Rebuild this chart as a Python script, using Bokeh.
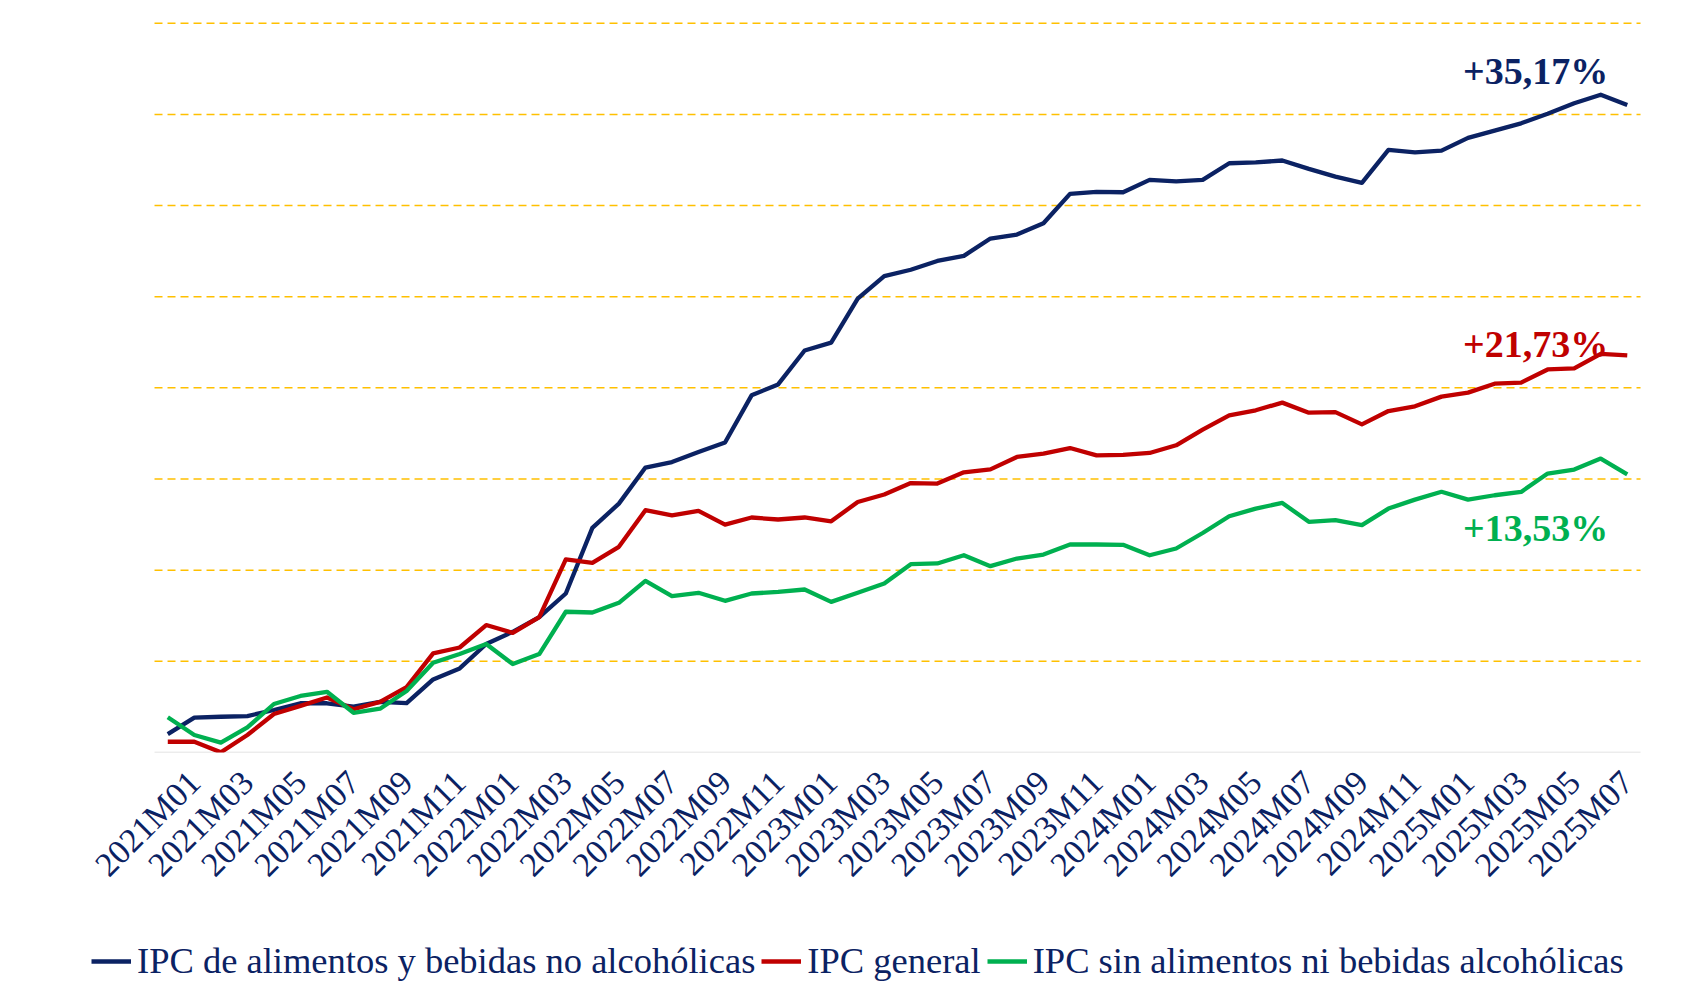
import math
from bokeh.plotting import figure
from bokeh.layouts import column
from bokeh.models import FixedTicker, Legend, LegendItem, Range1d
from bokeh.core.properties import value
from bokeh.embed import file_html
from bokeh.resources import INLINE

months = [
    "2020M12",
    "2021M01", "2021M02", "2021M03", "2021M04", "2021M05", "2021M06",
    "2021M07", "2021M08", "2021M09", "2021M10", "2021M11", "2021M12",
    "2022M01", "2022M02", "2022M03", "2022M04", "2022M05", "2022M06",
    "2022M07", "2022M08", "2022M09", "2022M10", "2022M11", "2022M12",
    "2023M01", "2023M02", "2023M03", "2023M04", "2023M05", "2023M06",
    "2023M07", "2023M08", "2023M09", "2023M10", "2023M11", "2023M12",
    "2024M01", "2024M02", "2024M03", "2024M04", "2024M05", "2024M06",
    "2024M07", "2024M08", "2024M09", "2024M10", "2024M11", "2024M12",
    "2025M01", "2025M02", "2025M03", "2025M04", "2025M05", "2025M06",
    "2025M07",
]

ipc_alimentos = [
    98.01, 98.91, 98.96, 99.00, 99.33, 99.70, 99.70, 99.51, 99.78, 99.71,
    101.01, 101.61, 102.95, 103.62, 104.42, 105.72, 109.32, 110.65, 112.63, 112.93,
    113.48, 114.00, 116.59, 117.19, 119.05, 119.48, 121.89, 123.13, 123.48, 123.96,
    124.24, 125.19, 125.41, 126.03, 127.64, 127.75, 127.73, 128.41, 128.33, 128.41,
    129.32, 129.37, 129.47, 129.01, 128.59, 128.24, 130.05, 129.92, 130.01, 130.71,
    131.11, 131.51, 132.03, 132.61, 133.08, 132.52,
]

ipc_general = [
    97.59, 97.59, 97.01, 97.96, 99.11, 99.56, 100.02, 99.37, 99.78, 100.59,
    102.44, 102.76, 103.99, 103.56, 104.42, 107.59, 107.40, 108.28, 110.29, 110.01,
    110.25, 109.50, 109.89, 109.78, 109.89, 109.68, 110.74, 111.15, 111.78, 111.75,
    112.37, 112.53, 113.21, 113.39, 113.70, 113.30, 113.32, 113.43, 113.85, 114.71,
    115.49, 115.77, 116.19, 115.64, 115.67, 115.00, 115.73, 115.99, 116.52, 116.74,
    117.23, 117.29, 118.01, 118.07, 118.87, 118.78,
]

ipc_sin_alimentos = [
    98.93, 97.96, 97.54, 98.38, 99.66, 100.10, 100.33, 99.18, 99.40, 100.37,
    101.92, 102.40, 102.95, 101.85, 102.40, 104.72, 104.68, 105.21, 106.41, 105.58,
    105.76, 105.32, 105.72, 105.81, 105.94, 105.26, 105.76, 106.27, 107.33, 107.37,
    107.82, 107.22, 107.64, 107.86, 108.41, 108.41, 108.39, 107.82, 108.19, 109.04,
    109.96, 110.38, 110.69, 109.65, 109.74, 109.47, 110.38, 110.87, 111.30, 110.87,
    111.11, 111.29, 112.30, 112.52, 113.12, 112.26,
]

series_names = [
    "IPC de alimentos y bebidas no alcohólicas",
    "IPC general",
    "IPC sin alimentos ni bebidas alcohólicas",
]
end_labels = ["+35,17%", "+21,73%", "+13,53%"]
grid_values = [102, 107, 112, 117, 122, 127, 132, 137]
y_min = 97

# styles
colors = ["#0B2263", "#C00000", "#00B050"]
navy_text = "#0B2263"
serif = "Liberation Serif"
label_dy = [1.87, 0.63, -2.96]
line_w = 4.3

n = len(months)
x = list(range(n))
all_series = [ipc_alimentos, ipc_general, ipc_sin_alimentos]
x_lo, x_hi = -0.5, n - 0.5

p = figure(
    width=1699, height=920,
    output_backend="svg", toolbar_location=None,
    x_range=Range1d(-3.289, 57.383),
    y_range=Range1d(y_min, 137.15),
    min_border_left=80, min_border_right=9,
    min_border_top=20, min_border_bottom=168,
)
p.outline_line_color = None
p.background_fill_color = "white"
p.border_fill_color = "white"
p.grid.visible = False
p.yaxis.visible = False

# dashed horizontal gridlines and solid baseline across the category span
p.segment(x0=[x_lo] * len(grid_values), x1=[x_hi] * len(grid_values),
          y0=grid_values, y1=grid_values,
          line_color="#FFC000", line_dash="8 5", line_width=1.5)
p.segment(x0=[x_lo], x1=[x_hi], y0=[y_min], y1=[y_min],
          line_color="#D9D9D9", line_width=1.5)

tick_idx = list(range(1, n, 2))
p.xaxis.ticker = FixedTicker(ticks=tick_idx)
p.xaxis.major_label_overrides = {i: months[i] for i in tick_idx}
p.xaxis.major_label_orientation = math.pi / 4
p.xaxis.major_label_text_font = serif
p.xaxis.major_label_text_font_size = "34px"
p.xaxis.major_label_text_color = navy_text
p.xaxis.major_label_standoff = 18
p.xaxis.major_tick_line_color = None
p.xaxis.minor_tick_line_color = None
p.xaxis.axis_line_color = None

for ys, c in zip(all_series, colors):
    p.line(x, ys, line_color=c, line_width=line_w, line_join="round")

last = n - 1
lx = [last - 0.72] * 3
ly = [s[-1] + d for s, d in zip(all_series, label_dy)]
p.text(x=lx, y=ly, text=end_labels, text_color=colors,
       text_font=value(serif), text_font_style="bold", text_font_size="38px",
       text_align="right", text_baseline="alphabetic")

# legend strip below the chart (its series lie outside its empty range, so only
# the legend itself is visible)
lg = figure(
    width=1699, height=70,
    output_backend="svg", toolbar_location=None,
    x_axis_type=None, y_axis_type=None,
    x_range=Range1d(0, 1), y_range=Range1d(0, 1),
    min_border_left=80, min_border_right=9, min_border_top=0, min_border_bottom=0,
)
lg.outline_line_color = None
lg.grid.visible = False
leg_renderers = [lg.line(x, ys, line_color=c, line_width=line_w)
                 for ys, c in zip(all_series, colors)]
legend = Legend(
    items=[LegendItem(label=s, renderers=[r]) for s, r in zip(series_names, leg_renderers)],
    orientation="horizontal", location=(11, 8),
    label_text_font=serif, label_text_font_size="36.5px", label_text_color=navy_text,
    glyph_width=40, glyph_height=20, label_standoff=6, spacing=6,
    border_line_color=None, background_fill_alpha=0, padding=5, margin=0,
)
lg.add_layout(legend, "center")

page = column(p, lg, spacing=0)
open("out.html", "w").write(file_html(page, INLINE))
